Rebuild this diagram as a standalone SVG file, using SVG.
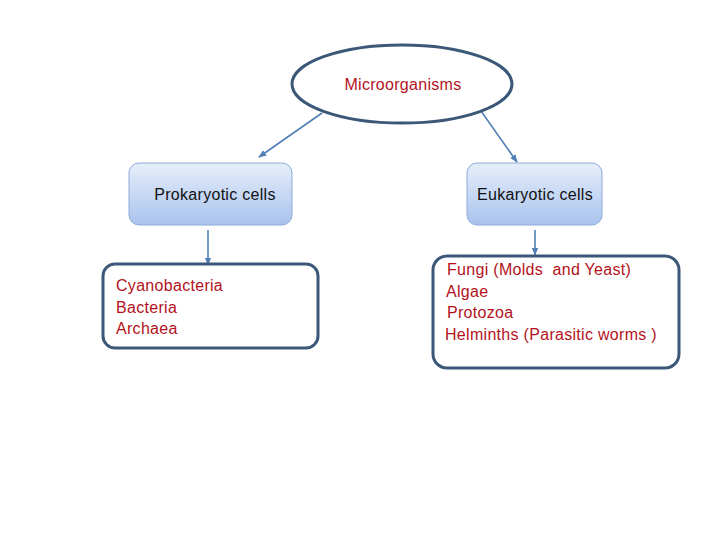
<svg xmlns="http://www.w3.org/2000/svg" width="720" height="540" viewBox="0 0 720 540">
<style>
.lbl{font-family:"Liberation Sans",Arial,sans-serif;font-size:16px;letter-spacing:0.3px;fill:#111}
.red{font-family:"Liberation Sans",Arial,sans-serif;font-size:16px;letter-spacing:0.3px;fill:#b3121b}
.cell{stroke:#8eaadb;stroke-width:1;fill:url(#g)}
.list{fill:#fff;stroke:#3b5878;stroke-width:3}
.con{stroke:#4f7fb5;stroke-width:1.6;fill:none;marker-end:url(#a)}
</style>
<defs>
<linearGradient id="g" x1="0" y1="0" x2="0" y2="1">
<stop offset="0" stop-color="#e6eefa"/>
<stop offset="1" stop-color="#a9c3ee"/>
</linearGradient>
<marker id="a" viewBox="0 0 10 10" refX="9" refY="5" markerWidth="5" markerHeight="5" orient="auto">
<path d="M0,1 L10,5 L0,9 z" fill="#4f7fb5"/>
</marker>
</defs>
<rect width="720" height="540" fill="#fff"/>
<g id="connectors">
<line class="con" x1="322" y1="113" x2="259" y2="157"/>
<line class="con" x1="481" y1="111" x2="517" y2="162"/>
<line class="con" x1="208" y1="230" x2="208" y2="265"/>
<line class="con" x1="535" y1="230" x2="535" y2="255"/>
</g>
<g id="microorganisms">
<ellipse cx="402" cy="84" rx="110" ry="39" fill="#fff" stroke="#3b5878" stroke-width="3"/>
<text class="red" x="403" y="90" text-anchor="middle">Microorganisms</text>
</g>
<g id="prokaryotic">
<rect class="cell" x="129" y="163" width="163" height="62" rx="10"/>
<text class="lbl" x="215" y="200" text-anchor="middle">Prokaryotic cells</text>
</g>
<g id="eukaryotic">
<rect class="cell" x="467" y="163" width="135" height="62" rx="10"/>
<text class="lbl" x="535" y="200" text-anchor="middle">Eukaryotic cells</text>
</g>
<g id="prokaryotic-list">
<rect class="list" x="103" y="264" width="215" height="84" rx="12"/>
<text class="red" x="116" y="291">Cyanobacteria</text>
<text class="red" x="116" y="313">Bacteria</text>
<text class="red" x="116" y="334">Archaea</text>
</g>
<g id="eukaryotic-list">
<rect class="list" x="433" y="256" width="246" height="112" rx="14"/>
<text class="red" x="447" y="275" xml:space="preserve">Fungi (Molds  and Yeast)</text>
<text class="red" x="446" y="297">Algae</text>
<text class="red" x="447" y="318">Protozoa</text>
<text class="red" x="445" y="340">Helminths (Parasitic worms )</text>
</g>
</svg>
